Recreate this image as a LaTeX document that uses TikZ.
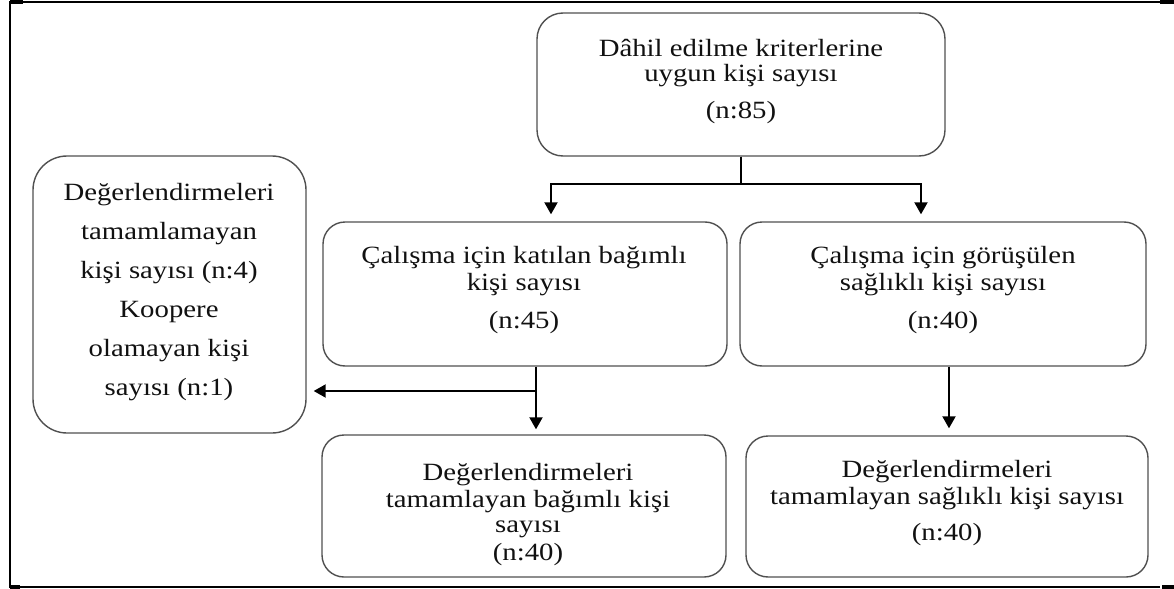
\documentclass[tikz,border=0pt]{standalone}
\usepackage{fontspec}
\setmainfont{Liberation Serif}[FakeStretch=1.16]
\usetikzlibrary{arrows.meta,fit}
\definecolor{boxgray}{HTML}{505050}
\definecolor{txtcol}{HTML}{111111}
\begin{document}
\begin{tikzpicture}[x=0.5pt,y=-0.5pt,
  box/.style={draw=boxgray, line width=0.7pt, inner sep=0pt, rounded corners=#1},
  box/.default=11pt,
  txt/.style={anchor=base, inner sep=0pt, text=txtcol, font=\fontsize{12.4pt}{14pt}\selectfont},
  arr/.style={-{Triangle[length=6pt,width=6.5pt]}, line width=1pt},
  frame/.style={line width=1pt}]
\useasboundingbox (0,0) rectangle (1174,589);

% frame
\draw[frame] (1160,1.5) -- (10,1.5) -- (10,587) -- (1160,587);
\fill (10,0) rectangle (23,3.5);
\fill (1160,0) rectangle (1174,3.5);
\fill (10,585) rectangle (20,589);
\fill (1162,585) rectangle (1174,589);

% boxes
\node[box=13pt, fit={(537,13) (945,156)}] (top) {};
\node[box=17pt, fit={(33,156) (306,433)}] (left) {};
\node[box, fit={(323,222) (727,366)}] (ml) {};
\node[box, fit={(740,222) (1146,366)}] (mr) {};
\node[box, fit={(322,435) (726,577)}] (bl) {};
\node[box, fit={(746,436) (1148,577)}] (br) {};

% texts
\node[txt] (top1) at (741,56) {Dâhil edilme kriterlerine};
\node[txt] (top2) at (741,82) {uygun kişi sayısı};
\node[txt] (top3) at (741,119) {(n:85)};

\node[txt] (left1) at (169,200) {Değerlendirmeleri};
\node[txt] (left2) at (169,239) {tamamlamayan};
\node[txt] (left3) at (169,278) {kişi sayısı (n:4)};
\node[txt] (left4) at (169,317) {Koopere};
\node[txt] (left5) at (169,356) {olamayan kişi};
\node[txt] (left6) at (169,395) {sayısı (n:1)};

\node[txt] (ml1) at (524,263) {Çalışma için katılan bağımlı};
\node[txt] (ml2) at (524,290) {kişi sayısı};
\node[txt] (ml3) at (524,328) {(n:45)};

\node[txt] (mr1) at (943,263) {Çalışma için görüşülen};
\node[txt] (mr2) at (943,290) {sağlıklı kişi sayısı};
\node[txt] (mr3) at (943,328) {(n:40)};

\node[txt] (bl1) at (528,480) {Değerlendirmeleri};
\node[txt] (bl2) at (528,507) {tamamlayan bağımlı kişi};
\node[txt] (bl3) at (528,532) {sayısı};
\node[txt] (bl4) at (528,560) {(n:40)};

\node[txt] (br1) at (947,477) {Değerlendirmeleri};
\node[txt] (br2) at (947,504) {tamamlayan sağlıklı kişi sayısı};
\node[txt] (br3) at (947,540) {(n:40)};

% connectors
\coordinate (jl) at (551,184);
\coordinate (jr) at (921,184);
\coordinate (jb) at (536,391);
\coordinate (jm) at (949,400);
\draw[arr, shorten >=3.5pt] (top.south) -- (top.south |- jl) -| (jl |- ml.north);
\draw[arr, shorten >=3.5pt] (top.south) -- (top.south |- jr) -| (jr |- mr.north);
\draw[arr, shorten >=2.5pt] (jb |- ml.south) -- (jb |- bl.north);
\draw[arr, shorten >=3.5pt] (jb) -- (jb -| left.east);
\draw[arr, shorten >=3.5pt] (jm |- mr.south) -- (jm |- br.north);
\end{tikzpicture}
\end{document}
